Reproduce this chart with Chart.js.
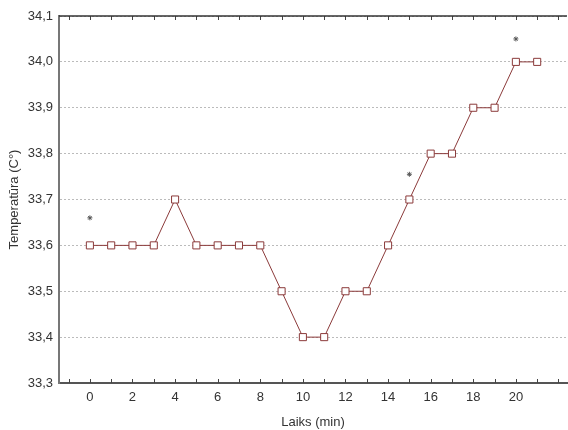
<!DOCTYPE html>
<html>
<head>
<meta charset="utf-8">
<script src="https://cdn.jsdelivr.net/npm/chart.js@4"></script>
<style>
  html, body { margin: 0; padding: 0; background: #fff; }
  #wrap { width: 568px; height: 430px; }
</style>
</head>
<body>
<div id="wrap"><canvas id="myChart" width="568" height="430"></canvas></div>
<script>
// laikas (min) ir temperatura
var laikas = [0, 1, 2, 3, 4, 5, 6, 7, 8, 9, 10, 11, 12, 13, 14, 15, 16, 17, 18, 19, 20, 21];
var temperatura = [33.6, 33.6, 33.6, 33.6, 33.7, 33.6, 33.6, 33.6, 33.6, 33.5, 33.4,
                   33.4, 33.5, 33.5, 33.6, 33.7, 33.8, 33.8, 33.9, 33.9, 34.0, 34.0];

// zvaigzdutes (reiksmingi skirtumai)
var zvaigzdX = [0, 15, 20];
var zvaigzdY = [33.66, 33.755, 34.05];

var xTicks = [0, 2, 4, 6, 8, 10, 12, 14, 16, 18, 20];
var yTicks = [33.3, 33.4, 33.5, 33.6, 33.7, 33.8, 33.9, 34.0, 34.1];

var spalva = '#8b3a3a';
var fontas = { family: 'Liberation Sans, Arial, sans-serif', size: 13 };

// mazi vidiniai bruksneliai ant asiu
var vidiniaiTickai = {
    id: 'vidiniaiTickai',
    afterDraw: function(chart) {
        var c = chart.ctx, a = chart.chartArea;
        var x = chart.scales.x;
        c.save();
        c.strokeStyle = '#444';
        c.lineWidth = 1;
        c.beginPath();
        for (var v = -1; v <= 22; v++) {
            var px = Math.round(x.getPixelForValue(v)) + 0.5;
            c.moveTo(px, a.bottom); c.lineTo(px, a.bottom - 4);
            c.moveTo(px, a.top); c.lineTo(px, a.top + 4);
        }
        c.stroke();
        // virsutine linija
        c.strokeStyle = '#333';
        c.lineWidth = 1.5;
        c.beginPath();
        c.moveTo(a.left, a.top); c.lineTo(a.right, a.top);
        c.stroke();
        c.restore();
    }
};

var ctx = document.getElementById('myChart').getContext('2d');
var chart = new Chart(ctx, {
    type: 'line',
    data: {
        datasets: [{
            label: 'Temperatūra',
            data: laikas.map(function(t, i) { return { x: t, y: temperatura[i] }; }),
            borderColor: spalva,
            borderWidth: 1,
            backgroundColor: '#fff',
            pointStyle: 'rect',
            pointRadius: 5,
            pointBorderColor: spalva,
            pointBackgroundColor: '#fff',
            pointBorderWidth: 1,
            tension: 0
        }, {
            label: '*',
            data: zvaigzdX.map(function(t, i) { return { x: t, y: zvaigzdY[i] }; }),
            showLine: false,
            pointStyle: 'star',
            pointRadius: 2.5,
            pointBorderColor: '#555',
            pointBorderWidth: 1
        }]
    },
    options: {
        responsive: false,
        animation: false,
        layout: { autoPadding: false, padding: { top: 16, right: 1, left: 0, bottom: 0 } },
        plugins: { legend: { display: false }, tooltip: { enabled: false } },
        scales: {
            x: {
                type: 'linear',
                min: -1.45,
                max: 22.4,
                afterBuildTicks: function(s) { s.ticks = xTicks.map(function(v) { return { value: v }; }); },
                afterFit: function(s) { s.height = 47; },
                grid: { display: false, drawTicks: false },
                border: { display: true, color: '#555', width: 2 },
                ticks: { color: '#333', font: fontas, padding: 7, maxRotation: 0 },
                title: { display: true, text: 'Laiks (min)', color: '#333', font: fontas, padding: { top: 4, bottom: 0 } }
            },
            y: {
                min: 33.3,
                max: 34.1,
                afterBuildTicks: function(s) { s.ticks = yTicks.map(function(v) { return { value: v }; }); },
                afterFit: function(s) { s.width = 59; },
                grid: { color: '#bbb', lineWidth: 1, drawTicks: false },
                border: { display: true, color: '#777', width: 2, dash: [2, 2] },
                ticks: {
                    color: '#333', font: fontas, padding: 6,
                    callback: function(v) { return v.toFixed(1).replace('.', ','); }
                },
                title: { display: true, text: 'Temperatūra (C°)', color: '#333', font: fontas, padding: { top: 7, bottom: 0 } }
            }
        }
    },
    plugins: [vidiniaiTickai]
});
</script>
</body>
</html>
